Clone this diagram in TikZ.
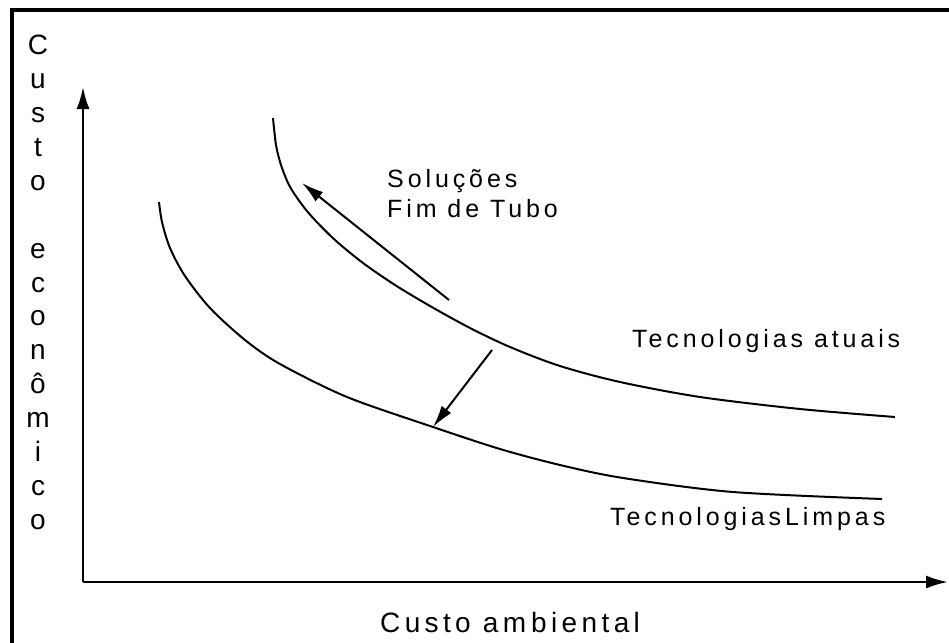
\documentclass[tikz,border=0pt]{standalone}
\usepackage{fontspec}
\setmainfont{Liberation Sans}
\newfontfamily\trk[LetterSpace=15.6]{Liberation Sans}
\usetikzlibrary{arrows.meta}
\begin{document}
\begin{tikzpicture}[x=1pt,y=-1pt,
  curve/.style={line width=2pt},
  axis/.style={line width=2.4pt,-{Latex[length=22pt,width=13pt]}},
  shiftarrow/.style={line width=2pt,-{Latex[length=22pt,width=12pt]}},
  lbl/.style={inner sep=0pt,anchor=base west,font=\trk\fontsize{25}{30}\selectfont},
  ylet/.style={inner sep=0pt,anchor=base,font=\trk\fontsize{28}{34}\selectfont},
]
\useasboundingbox (0,0) rectangle (949,642);
% frame
\draw[line width=4pt] (11.5,670) -- (11.5,10) -- (980,10);
% axes
\coordinate (O) at (83,582);
\coordinate (ytip) at (83,87);
\coordinate (xtip) at (948,582);
\draw[axis] (O) -- (ytip);
\draw[axis] (O) -- (xtip);
% y label
\foreach \ch [count=\i from 0] in {C,u,s,t,o}
  \node[ylet] (ya\i) at (38,{55+33.86*\i}) {\ch};
\foreach \ch [count=\i from 6] in {e,c,o,n,ô,m,i,c,o}
  \node[ylet] (yb\i) at (38,{55+33.86*\i}) {\ch};
% x label
\node[lbl,font=\trk\fontsize{28}{34}\selectfont] (xlab) at (380,632) {Custo am\kern5pt biental};
% curves
\draw[curve] plot[smooth,tension=0.5] coordinates {(273,118) (276,145) (281,165) (289,185) (300,202) (313,218) (335,240) (363,263) (395,285) (430,306) (470,328) (510,347) (560,366) (620,382) (700,397) (800,409) (895,417)};
\draw[curve] plot[smooth,tension=0.5] coordinates {(159,202) (162,222) (170,248) (185,276) (210,308) (245,340) (280,364) (347,397) (433,427) (500,449) (560,465) (623,478) (733,492) (882,499)};
% arrows
\coordinate (fs) at (449,300);
\coordinate (ft) at (302,183);
\coordinate (ls) at (492,350);
\coordinate (lt) at (433,427);
\draw[shiftarrow] (fs) -- (ft);
\draw[shiftarrow] (ls) -- (lt);
% labels
\node[lbl] (sol) at (387,187) {Soluções};
\node[lbl] (fim) at (387,217) {Fim de Tubo};
\node[lbl] (atu) at (632,347) {Tecnologias atuais};
\node[lbl] (lim) at (610,525) {TecnologiasLim\kern4pt pas};
\end{tikzpicture}
\end{document}
